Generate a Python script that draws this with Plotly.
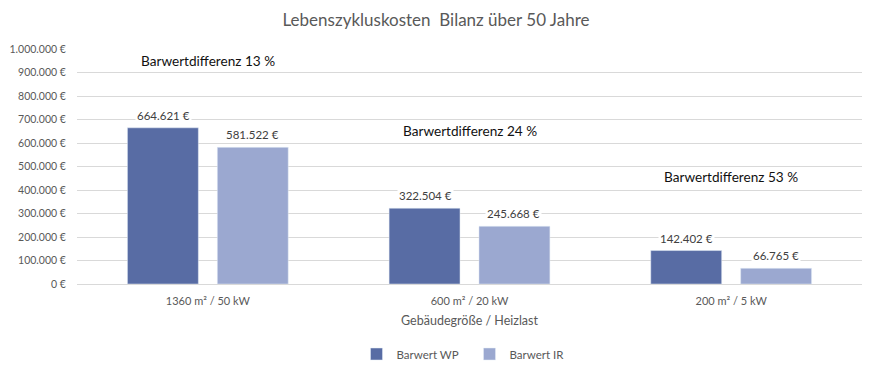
import plotly.graph_objects as go

categories = ["1360 m² / 50 kW", "600 m² / 20 kW", "200 m² / 5 kW"]
barwert_wp = [664621, 322504, 142402]
barwert_ir = [581522, 245668, 66765]
y_ticks = list(range(0, 1000001, 100000))

def eur(v):
    return f"{v:,}".replace(",", ".") + " €"

FONT = "Lato, 'Open Sans', sans-serif"
GRAY = "#595959"
C_WP = "#586ca4"
C_IR = "#9ba8d0"

# page body has an 8px default margin; size the figure to fit the window
W, H = 856, 358

fig = go.Figure()
fig.add_bar(name="Barwert WP", x=categories, y=barwert_wp, marker_color=C_WP,
            offsetgroup="wp")
fig.add_bar(name="Barwert IR", x=categories, y=barwert_ir, marker_color=C_IR,
            offsetgroup="ir")

annotations = []
for i, cat in enumerate(categories):
    for vals, shift in ((barwert_wp, -0.17), (barwert_ir, 0.17)):
        annotations.append(dict(
            x=i + shift, y=vals[i], xref="x", yref="y", text=eur(vals[i]),
            showarrow=False, yanchor="bottom", yshift=4, bgcolor="white",
            font=dict(family=FONT, size=11.5, color="#404040")))

diff_y = [950000, 650000, 455000]
for i, cat in enumerate(categories):
    pct = round((barwert_wp[i] - barwert_ir[i]) / barwert_wp[i] * 100)
    annotations.append(dict(
        x=i, y=diff_y[i], xref="x", yref="y",
        text=f"Barwertdifferenz {pct} %", showarrow=False,
        font=dict(family=FONT, size=13.6, color="#111111")))

fig.update_layout(
    width=W, height=H,
    margin=dict(l=69, r=2, t=41, b=82, autoexpand=False),
    paper_bgcolor="white", plot_bgcolor="white",
    separators=",.",
    barmode="group", bargap=0.313, bargroupgap=0.211,
    title=dict(text="Lebenszykluskosten  Bilanz über 50 Jahre", x=0.5, xanchor="center",
               y=1 - 12 / H, yanchor="middle", yref="container",
               font=dict(family=FONT, size=17, color=GRAY)),
    font=dict(family=FONT, size=11, color=GRAY),
    xaxis=dict(title=dict(text="Gebäudegröße / Heizlast", font=dict(size=12.5, color=GRAY), standoff=10),
               tickfont=dict(size=11, color=GRAY), showline=True, linecolor="#d9d9d9",
               linewidth=1, ticks="outside", ticklen=7, tickcolor="white", showgrid=False,
               automargin=False),
    yaxis=dict(range=[0, 1000000], tickvals=y_ticks, ticktext=[eur(v) for v in y_ticks],
               showgrid=True, gridcolor="#d9d9d9", gridwidth=1, zeroline=False,
               tickfont=dict(size=10.5, color=GRAY), ticks="outside", ticklen=8,
               tickcolor="white", automargin=False),
    legend=dict(orientation="h", x=0.5, xanchor="center", y=12 / H, yanchor="middle",
                yref="container", entrywidth=68, entrywidthmode="pixels",
                font=dict(size=11.5, color=GRAY), itemwidth=30, traceorder="normal"),
    annotations=annotations,
    showlegend=True,
)

fig.write_html("out.html")
